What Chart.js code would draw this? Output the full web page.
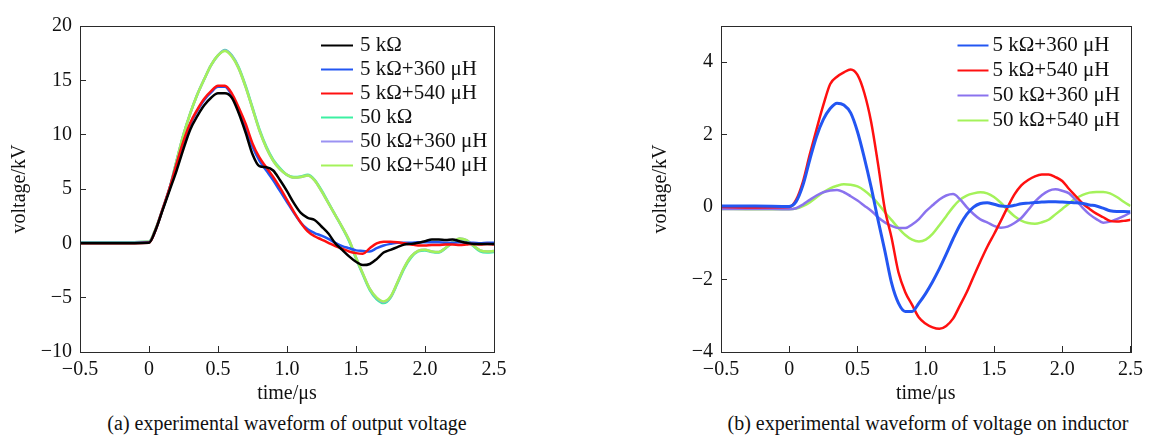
<!DOCTYPE html>
<html>
<head>
<meta charset="utf-8">
<title>Experimental voltage waveforms</title>
<script src="https://cdn.jsdelivr.net/npm/chart.js@4.4.1/dist/chart.umd.min.js"></script>
<style>
  html, body { margin: 0; padding: 0; background: #fff; overflow: hidden; }
  #page { position: relative; width: 1155px; height: 436px; }
  canvas { position: absolute; top: 0; }
  #outputChart { left: 0; }
  #inductorChart { left: 641px; }
  .caption {
    position: absolute; top: 411px; height: 24px;
    font: 20px 'Liberation Serif', 'Times New Roman', serif;
    line-height: 24px; color: #111; text-align: center; white-space: nowrap;
  }
</style>
</head>
<body>
<div id="page">
  <canvas id="outputChart" width="560" height="410"></canvas>
  <canvas id="inductorChart" width="514" height="410"></canvas>
  <div class="caption" style="left:0; width:574px;">(a) experimental waveform of output voltage</div>
  <div class="caption" style="left:701px; width:454px;">(b) experimental waveform of voltage on inductor</div>
</div>
<script>
/* ========================================
   Output / inductor voltage waveforms
   two oscilloscope panels, time in μs
   ======================================== */

// sample times (μs), shared by every trace
const times = [-0.5, -0.25, 0,
  0.05, 0.1, 0.15, 0.2, 0.25, 0.3, 0.35, 0.4, 0.45, 0.5,
  0.55, 0.6, 0.65, 0.7, 0.75, 0.8, 0.85, 0.9, 0.95, 1.0,
  1.05, 1.1, 1.15, 1.2, 1.25, 1.3, 1.35, 1.4, 1.45, 1.5,
  1.55, 1.6, 1.65, 1.7, 1.75, 1.8, 1.85, 1.9, 1.95, 2.0,
  2.05, 2.1, 2.15, 2.2, 2.25, 2.3, 2.35, 2.4, 2.45, 2.5];

// (a) output voltage, kV
const vOut5k = [0.0, 0.0, 0.05,
  1.3, 3.1, 4.9, 6.7, 8.7, 10.5, 11.7, 12.7, 13.4, 13.8,
  13.8, 13.4, 12.0, 10.2, 8.2, 7.1, 7.0, 6.7, 5.8, 4.8,
  3.7, 2.8, 2.35, 2.15, 1.55, 0.9, 0.0, -0.6, -1.2, -1.7,
  -2.0, -1.9, -1.45, -0.85, -0.6, -0.35, -0.1, -0.05, 0.05, 0.2,
  0.35, 0.35, 0.3, 0.35, 0.2, 0.05, -0.05, -0.05, -0.05, -0.05];
const vOut5k360 = [0.05, 0.05, 0.1,
  1.3, 3.2, 5.1, 7.3, 9.3, 11.0, 12.2, 13.2, 13.9, 14.4,
  14.4, 13.6, 12.3, 10.7, 8.9, 7.6, 6.7, 5.8, 4.8, 3.8,
  2.8, 1.9, 1.3, 0.95, 0.7, 0.4, 0.05, -0.25, -0.45, -0.65,
  -0.7, -0.75, -0.45, -0.2, -0.05, 0.05, 0.05, 0.05, 0.1, 0.1,
  0.1, 0.1, 0.05, 0.05, 0.1, 0.05, 0.05, 0.0, 0.05, 0.05];
const vOut5k540 = [0.0, 0.0, 0.05,
  1.3, 3.2, 5.1, 7.3, 9.4, 11.1, 12.3, 13.3, 14.0, 14.5,
  14.5, 13.8, 12.5, 11.0, 9.2, 7.9, 7.0, 6.1, 5.1, 4.0,
  2.9, 1.9, 1.1, 0.65, 0.35, 0.05, -0.25, -0.5, -0.75, -0.9,
  -0.95, -0.45, 0.0, 0.15, 0.15, 0.1, 0.0, -0.1, -0.2, -0.2,
  -0.15, -0.15, -0.1, -0.1, -0.15, -0.1, -0.05, -0.1, -0.05, -0.1];
const vOut50k = [0.1, 0.1, 0.15,
  1.4, 3.2, 5.1, 7.6, 10.0, 12.0, 13.7, 15.1, 16.4, 17.3,
  17.8, 17.3, 16.2, 14.5, 12.5, 10.5, 8.9, 7.7, 6.9, 6.3,
  6.1, 6.15, 6.3, 5.85, 4.9, 3.75, 2.6, 1.45, 0.2, -1.4,
  -2.9, -4.3, -5.15, -5.5, -5.0, -3.7, -2.3, -1.3, -0.75, -0.65,
  -0.8, -0.85, -0.45, 0.05, 0.4, 0.25, -0.25, -0.75, -0.85, -0.8];
const vOut50k360 = [0.1, 0.1, 0.15,
  1.4, 3.2, 5.1, 7.6, 10.0, 12.0, 13.7, 15.1, 16.4, 17.3,
  17.75, 17.25, 16.1, 14.4, 12.4, 10.4, 8.8, 7.6, 6.8, 6.3,
  6.05, 6.1, 6.25, 5.8, 4.8, 3.7, 2.6, 1.5, 0.3, -1.3,
  -2.8, -4.2, -5.05, -5.4, -4.95, -3.6, -2.2, -1.2, -0.7, -0.6,
  -0.75, -0.8, -0.4, 0.1, 0.45, 0.3, -0.2, -0.65, -0.75, -0.7];
const vOut50k540 = [0.1, 0.1, 0.15,
  1.4, 3.2, 5.1, 7.6, 10.0, 12.0, 13.7, 15.1, 16.4, 17.3,
  17.7, 17.2, 16.1, 14.4, 12.4, 10.4, 8.8, 7.6, 6.8, 6.3,
  6.05, 6.1, 6.25, 5.8, 4.8, 3.7, 2.6, 1.5, 0.3, -1.3,
  -2.8, -4.2, -5.0, -5.35, -4.9, -3.6, -2.2, -1.2, -0.7, -0.6,
  -0.75, -0.8, -0.4, 0.1, 0.45, 0.3, -0.2, -0.65, -0.75, -0.7];

// (b) voltage on inductor, kV
const vInd5k360 = [0.03, 0.03, 0.02,
  0.15, 0.6, 1.3, 1.95, 2.42, 2.72, 2.87, 2.82, 2.6, 2.08,
  1.36, 0.55, -0.35, -1.2, -2.1, -2.65, -2.88, -2.88, -2.65, -2.38,
  -2.06, -1.7, -1.3, -0.88, -0.5, -0.2, 0.0, 0.1, 0.12, 0.08,
  0.03, 0.02, 0.05, 0.09, 0.11, 0.13, 0.14, 0.15, 0.15, 0.14,
  0.13, 0.12, 0.1, 0.06, 0.03, -0.03, -0.1, -0.12, -0.12, -0.13];
const vInd5k540 = [0.0, -0.01, 0.0,
  0.2, 0.7, 1.45, 2.15, 2.82, 3.4, 3.6, 3.72, 3.8, 3.65,
  3.15, 2.35, 1.2, -0.05, -0.85, -1.8, -2.35, -2.7, -3.05, -3.22,
  -3.32, -3.36, -3.28, -3.08, -2.72, -2.35, -1.92, -1.5, -1.1, -0.75,
  -0.38, 0.0, 0.35, 0.6, 0.75, 0.85, 0.9, 0.9, 0.83, 0.72,
  0.5, 0.3, 0.1, -0.05, -0.18, -0.28, -0.38, -0.4, -0.38, -0.35];
const vInd50k360 = [-0.05, -0.05, -0.06,
  -0.03, 0.07, 0.2, 0.32, 0.41, 0.46, 0.47, 0.41, 0.3, 0.18,
  0.04, -0.1, -0.28, -0.42, -0.52, -0.58, -0.58, -0.48, -0.33, -0.12,
  0.05, 0.21, 0.32, 0.36, 0.22, 0.0, -0.19, -0.34, -0.42, -0.52,
  -0.57, -0.54, -0.44, -0.3, -0.08, 0.15, 0.33, 0.45, 0.49, 0.45,
  0.38, 0.19, -0.02, -0.2, -0.33, -0.43, -0.4, -0.33, -0.25, -0.15];
const vInd50k540 = [-0.05, -0.06, -0.06,
  -0.04, 0.03, 0.13, 0.27, 0.41, 0.52, 0.59, 0.63, 0.62, 0.57,
  0.46, 0.3, 0.1, -0.14, -0.36, -0.58, -0.77, -0.9, -0.95, -0.9,
  -0.74, -0.5, -0.25, 0.0, 0.2, 0.32, 0.38, 0.41, 0.38, 0.28,
  0.12, -0.08, -0.25, -0.37, -0.44, -0.46, -0.42, -0.35, -0.2, -0.05,
  0.1, 0.24, 0.34, 0.4, 0.42, 0.42, 0.38, 0.28, 0.15, 0.03];

// axis ticks
const xTickValues = [-0.5, 0, 0.5, 1.0, 1.5, 2.0, 2.5];
const xTickLabels = ['\u22120.5', '0', '0.5', '1.0', '1.5', '2.0', '2.5'];
const yTickValuesA = [-10, -5, 0, 5, 10, 15, 20];
const yTickLabelsA = ['\u221210', '\u22125', '0', '5', '10', '15', '20'];
const yTickValuesB = [-4, -2, 0, 2, 4];
const yTickLabelsB = ['\u22124', '\u22122', '0', '2', '4'];

// trace colours
const COLORS = {
  black: '#000000',
  blue: '#2356f2',
  red: '#ff1010',
  teal: '#3cf0a2',
  lavender: '#9b92f2',
  lime: '#a4f25a',
  violet: '#8a72ee'
};

const SERIF = "'Liberation Serif', 'Times New Roman', serif";
const AXIS_COLOR = '#2a2a2a';
const TEXT_COLOR = '#111111';

Chart.defaults.font.family = SERIF;
Chart.defaults.color = TEXT_COLOR;

// legend drawn inside the plot, top right: short line then label
const insideLegend = {
  id: 'insideLegend',
  afterDatasetsDraw(chart, args, opts) {
    const { ctx, chartArea } = chart;
    ctx.save();
    ctx.font = opts.labelFont;
    ctx.textBaseline = 'middle';
    ctx.textAlign = 'left';
    chart.data.datasets.forEach((ds, i) => {
      const y = chartArea.top + opts.top + i * opts.rowHeight;
      const x0 = chartArea.right - opts.lineStart;
      ctx.strokeStyle = ds.borderColor;
      ctx.lineWidth = 2;
      ctx.beginPath();
      ctx.moveTo(x0, y);
      ctx.lineTo(x0 + opts.lineLength, y);
      ctx.stroke();
      ctx.fillStyle = TEXT_COLOR;
      ctx.fillText(ds.label, chartArea.right - opts.textStart, y);
    });
    ctx.restore();
  }
};

// closed box round the plot area
const plotFrame = {
  id: 'plotFrame',
  afterDraw(chart) {
    const { ctx, chartArea: a } = chart;
    ctx.save();
    ctx.strokeStyle = AXIS_COLOR;
    ctx.lineWidth = 1;
    ctx.strokeRect(Math.round(a.left) + 0.5, Math.round(a.top) + 0.5,
      Math.round(a.right - a.left), Math.round(a.bottom - a.top));
    ctx.restore();
  }
};

function toPoints(values) {
  return times.map((t, i) => ({ x: t, y: values[i] }));
}

function trace(label, values, color, order, width) {
  return {
    label: label,
    data: toPoints(values),
    borderColor: color,
    backgroundColor: color,
    borderWidth: width || 2.5,
    pointRadius: 0,
    cubicInterpolationMode: 'monotone',
    order: order
  };
}

/**
 * Build one panel's config
 */
function panelConfig(datasets, yMin, yMax, yTicks, yLabels, legend, padRight) {
  return {
    type: 'line',
    data: { datasets: datasets },
    plugins: [insideLegend, plotFrame],
    options: {
      responsive: false,
      animation: false,
      events: [],
      layout: { padding: { top: 19, right: padRight, bottom: 0, left: 0 } },
      plugins: {
        legend: { display: false },
        tooltip: { enabled: false },
        insideLegend: legend
      },
      scales: {
        x: {
          type: 'linear',
          min: -0.5,
          max: 2.5,
          border: { display: false },
          grid: { drawOnChartArea: false, drawTicks: true, tickLength: -6, tickColor: AXIS_COLOR, lineWidth: 1 },
          afterBuildTicks: scale => { scale.ticks = xTickValues.map(v => ({ value: v })); },
          afterFit: scale => { scale.height = 58; },
          ticks: {
            autoSkip: false,
            maxRotation: 0,
            padding: 12,
            color: TEXT_COLOR,
            font: { size: 20 },
            callback: (value, index) => xTickLabels[index]
          },
          title: {
            display: true,
            text: 'time/μs',
            color: TEXT_COLOR,
            font: { size: 20 },
            padding: { top: 0, bottom: 4 }
          }
        },
        y: {
          type: 'linear',
          min: yMin,
          max: yMax,
          border: { display: false },
          grid: { drawOnChartArea: false, drawTicks: true, tickLength: -6, tickColor: AXIS_COLOR, lineWidth: 1 },
          afterBuildTicks: scale => { scale.ticks = yTicks.map(v => ({ value: v })); },
          afterFit: scale => { scale.width = 80; },
          ticks: {
            padding: 14,
            color: TEXT_COLOR,
            font: { size: 20 },
            callback: (value, index) => yLabels[index]
          },
          title: {
            display: true,
            text: 'voltage/kV',
            color: TEXT_COLOR,
            font: { size: 20 },
            padding: { top: 8, bottom: 0 }
          }
        }
      }
    }
  };
}

const legendFont = '21px ' + SERIF;

new Chart(document.getElementById('outputChart'), panelConfig([
  trace('5 kΩ', vOut5k, COLORS.black, 0),
  trace('5 kΩ+360 μH', vOut5k360, COLORS.blue, 2),
  trace('5 kΩ+540 μH', vOut5k540, COLORS.red, 1),
  trace('50 kΩ', vOut50k, COLORS.teal, 5),
  trace('50 kΩ+360 μH', vOut50k360, COLORS.lavender, 4),
  trace('50 kΩ+540 μH', vOut50k540, COLORS.lime, 3)
], -10, 20, yTickValuesA, yTickLabelsA,
  { top: 19.5, rowHeight: 24, lineStart: 173, lineLength: 32, textStart: 134, labelFont: legendFont }, 66));

new Chart(document.getElementById('inductorChart'), panelConfig([
  trace('5 kΩ+360 μH', vInd5k360, COLORS.blue, 0, 3),
  trace('5 kΩ+540 μH', vInd5k540, COLORS.red, 1),
  trace('50 kΩ+360 μH', vInd50k360, COLORS.violet, 2),
  trace('50 kΩ+540 μH', vInd50k540, COLORS.lime, 3)
], -4, 5, yTickValuesB, yTickLabelsB,
  { top: 19.5, rowHeight: 25, lineStart: 173, lineLength: 31, textStart: 138, labelFont: legendFont }, 20));
</script>
</body>
</html>
